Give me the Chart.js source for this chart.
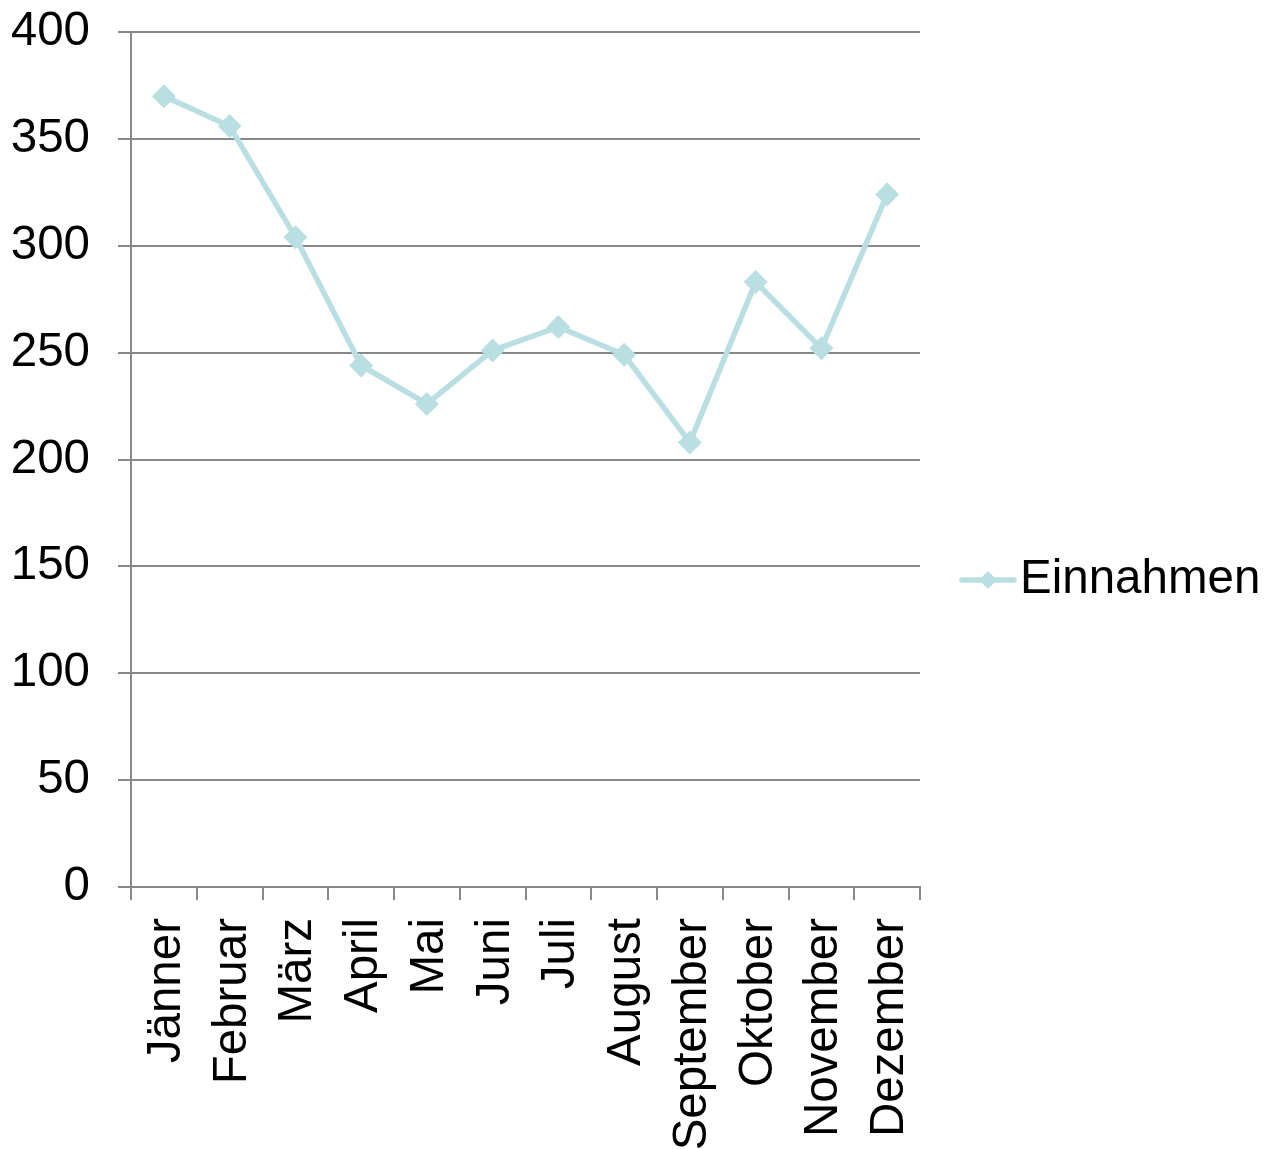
<!DOCTYPE html>
<html>
<head>
<meta charset="utf-8">
<title>Einnahmen</title>
<script src="https://cdn.jsdelivr.net/npm/chart.js@4/dist/chart.umd.min.js"></script>
<style>
  html, body { margin: 0; padding: 0; background: #fff; }
  canvas { display: block; }
</style>
</head>
<body>
<canvas id="chart" width="1265" height="1149"></canvas>
<script>
// Data
const months = ['Jänner', 'Februar', 'März', 'April', 'Mai', 'Juni', 'Juli', 'August', 'September', 'Oktober', 'November', 'Dezember'];
const einnahmen = [370, 356, 304, 244, 226, 251, 262, 249, 208, 283, 252, 324];
const yTicks = [0, 50, 100, 150, 200, 250, 300, 350, 400];

const lineColor = '#b9dfe2';
const gridColor = '#888888';
const fontFamily = '"Liberation Sans", Arial, sans-serif';
const fontSize = 47.5;

// Legend on the right: line + diamond, then series name
const sideLegend = {
    id: 'sideLegend',
    afterDraw(chart) {
        const ctx = chart.ctx;
        const ds = chart.data.datasets[0];
        const x = chart.chartArea.right + 42;
        const y = 580;
        ctx.save();
        ctx.strokeStyle = ds.borderColor;
        ctx.lineWidth = 5.5;
        ctx.lineCap = 'round';
        ctx.beginPath();
        ctx.moveTo(x, y);
        ctx.lineTo(x + 52, y);
        ctx.stroke();
        ctx.fillStyle = ds.borderColor;
        ctx.beginPath();
        ctx.moveTo(x + 26, y - 9);
        ctx.lineTo(x + 35, y);
        ctx.lineTo(x + 26, y + 9);
        ctx.lineTo(x + 17, y);
        ctx.closePath();
        ctx.fill();
        ctx.fillStyle = '#000';
        ctx.font = fontSize + 'px ' + fontFamily;
        ctx.textAlign = 'left';
        ctx.textBaseline = 'alphabetic';
        ctx.fillText(ds.label, x + 58, y + 13);
        ctx.restore();
    }
};

new Chart(document.getElementById('chart'), {
    type: 'line',
    data: {
        labels: months,
        datasets: [{
            label: 'Einnahmen',
            data: einnahmen,
            borderColor: lineColor,
            backgroundColor: lineColor,
            borderWidth: 5.5,
            tension: 0,
            pointStyle: 'rectRot',
            pointRadius: 12,
            pointBackgroundColor: lineColor,
            pointBorderColor: lineColor,
            pointBorderWidth: 0
        }]
    },
    plugins: [sideLegend],
    options: {
        responsive: false,
        devicePixelRatio: 1,
        animation: false,
        layout: {
            padding: { top: 0, left: 12, right: 345, bottom: 0 }
        },
        plugins: {
            tooltip: { enabled: false },
            legend: { display: false }
        },
        scales: {
            x: {
                offset: true,
                afterFit: (axis) => {
                    axis.height = 262;
                    axis.paddingLeft = 0;
                    axis.paddingRight = 0;
                },
                grid: {
                    display: true,
                    drawOnChartArea: false,
                    drawTicks: true,
                    tickLength: 13,
                    offset: true,
                    color: gridColor,
                    lineWidth: 2
                },
                border: { display: true, color: gridColor, width: 2 },
                ticks: {
                    minRotation: 90,
                    maxRotation: 90,
                    autoSkip: false,
                    padding: 18,
                    labelOffset: 3,
                    color: '#000',
                    font: { family: fontFamily, size: fontSize }
                }
            },
            y: {
                min: 0,
                max: 400,
                afterBuildTicks: (axis) => {
                    axis.ticks = yTicks.map(v => ({ value: v }));
                },
                afterFit: (axis) => {
                    axis.width = 119;
                    axis.paddingTop = 32;
                    axis.paddingBottom = 0;
                },
                grid: {
                    color: gridColor,
                    lineWidth: 2,
                    drawTicks: true,
                    tickLength: 13
                },
                border: { display: true, color: gridColor, width: 2 },
                ticks: {
                    padding: 28,
                    color: '#000',
                    font: { family: fontFamily, size: fontSize }
                }
            }
        }
    }
});
</script>
</body>
</html>
